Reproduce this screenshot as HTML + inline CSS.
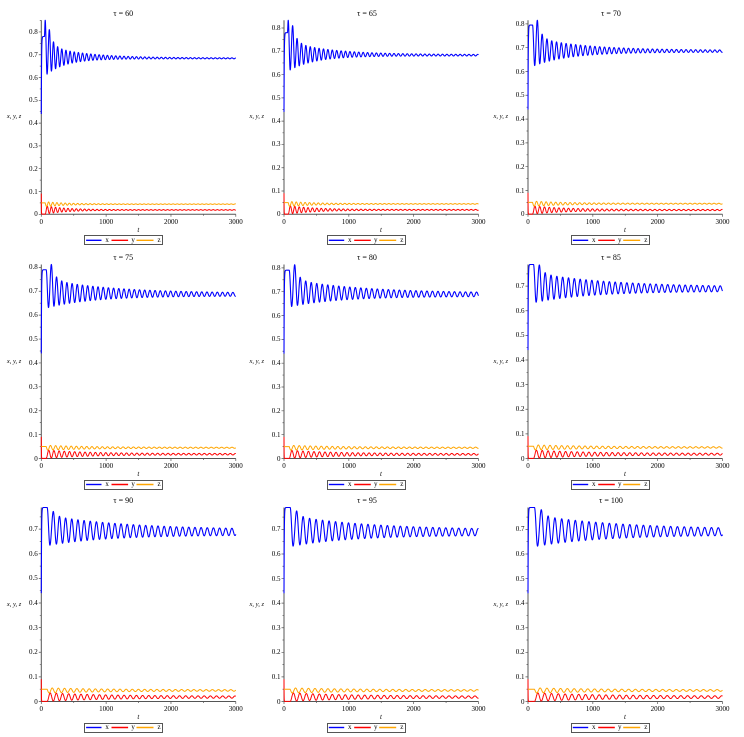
<!DOCTYPE html>
<html><head><meta charset="utf-8">
<style>
html,body{margin:0;padding:0;background:#fff;}
body{width:744px;height:737px;position:relative;overflow:hidden;font-family:"Liberation Serif",serif;color:#000;}
#sv{position:absolute;left:0;top:0;}
.p{position:absolute;width:0;height:0;}
.yt{position:absolute;right:3.5px;top:calc(-1px * var(--k) * var(--v) - 4px);font-size:7px;line-height:8px;white-space:nowrap;}
.xt{position:absolute;top:3.4px;left:calc(var(--t) * 64.83px);transform:translateX(-50%);font-size:7px;line-height:8px;white-space:nowrap;}
.ti{position:absolute;top:-205.2px;left:83px;transform:translateX(-50%);font-size:8px;line-height:10px;white-space:nowrap;}
.yl{position:absolute;right:20px;top:-101px;font-size:6.5px;line-height:8px;font-style:italic;white-space:nowrap;}
.tl{position:absolute;left:97px;top:11.7px;transform:translateX(-50%);font-size:7px;line-height:8px;font-style:italic;}
.lg{position:absolute;left:42.5px;top:21px;width:77px;height:8px;border:1px solid #555;}
.lt{position:absolute;top:-0.8px;font-size:7px;line-height:9px;transform:translateX(-50%);}
</style></head>
<body>
<svg id="sv" width="744" height="737" viewBox="0 0 744 737"></svg>

<div class="p" style="left:41.3px;top:214.3px;--k:22.8">
<div class="ti" style="left:82px">τ = 60</div>
<div class="yl">x, y, z</div><div class="tl">t</div>
<div class="yt" style="--v:0">0</div><div class="yt" style="--v:1">0.1</div><div class="yt" style="--v:2">0.2</div><div class="yt" style="--v:3">0.3</div><div class="yt" style="--v:4">0.4</div><div class="yt" style="--v:5">0.5</div><div class="yt" style="--v:6">0.6</div><div class="yt" style="--v:7">0.7</div><div class="yt" style="--v:8">0.8</div>
<div class="xt" style="--t:0">0</div><div class="xt" style="--t:1">1000</div><div class="xt" style="--t:2">2000</div><div class="xt" style="--t:3">3000</div>
<div class="lg"><span class="lt" style="left:22.3px">x</span><span class="lt" style="left:48.3px">y</span><span class="lt" style="left:74.3px">z</span></div>
</div>

<div class="p" style="left:284px;top:214.3px;--k:23.29">
<div class="ti">τ = 65</div>
<div class="yl">x, y, z</div><div class="tl">t</div>
<div class="yt" style="--v:0">0</div><div class="yt" style="--v:1">0.1</div><div class="yt" style="--v:2">0.2</div><div class="yt" style="--v:3">0.3</div><div class="yt" style="--v:4">0.4</div><div class="yt" style="--v:5">0.5</div><div class="yt" style="--v:6">0.6</div><div class="yt" style="--v:7">0.7</div><div class="yt" style="--v:8">0.8</div>
<div class="xt" style="--t:0">0</div><div class="xt" style="--t:1">1000</div><div class="xt" style="--t:2">2000</div><div class="xt" style="--t:3">3000</div>
<div class="lg"><span class="lt" style="left:22.3px">x</span><span class="lt" style="left:48.3px">y</span><span class="lt" style="left:74.3px">z</span></div>
</div>

<div class="p" style="left:528px;top:214.3px;--k:23.8">
<div class="ti">τ = 70</div>
<div class="yl">x, y, z</div><div class="tl">t</div>
<div class="yt" style="--v:0">0</div><div class="yt" style="--v:1">0.1</div><div class="yt" style="--v:2">0.2</div><div class="yt" style="--v:3">0.3</div><div class="yt" style="--v:4">0.4</div><div class="yt" style="--v:5">0.5</div><div class="yt" style="--v:6">0.6</div><div class="yt" style="--v:7">0.7</div><div class="yt" style="--v:8">0.8</div>
<div class="xt" style="--t:0">0</div><div class="xt" style="--t:1">1000</div><div class="xt" style="--t:2">2000</div><div class="xt" style="--t:3">3000</div>
<div class="lg"><span class="lt" style="left:22.3px">x</span><span class="lt" style="left:48.3px">y</span><span class="lt" style="left:74.3px">z</span></div>
</div>

<div class="p" style="left:41.3px;top:458.5px;--k:23.89">
<div class="ti" style="left:82px">τ = 75</div>
<div class="yl">x, y, z</div><div class="tl">t</div>
<div class="yt" style="--v:0">0</div><div class="yt" style="--v:1">0.1</div><div class="yt" style="--v:2">0.2</div><div class="yt" style="--v:3">0.3</div><div class="yt" style="--v:4">0.4</div><div class="yt" style="--v:5">0.5</div><div class="yt" style="--v:6">0.6</div><div class="yt" style="--v:7">0.7</div><div class="yt" style="--v:8">0.8</div>
<div class="xt" style="--t:0">0</div><div class="xt" style="--t:1">1000</div><div class="xt" style="--t:2">2000</div><div class="xt" style="--t:3">3000</div>
<div class="lg"><span class="lt" style="left:22.3px">x</span><span class="lt" style="left:48.3px">y</span><span class="lt" style="left:74.3px">z</span></div>
</div>

<div class="p" style="left:284px;top:458.5px;--k:23.83">
<div class="ti">τ = 80</div>
<div class="yl">x, y, z</div><div class="tl">t</div>
<div class="yt" style="--v:0">0</div><div class="yt" style="--v:1">0.1</div><div class="yt" style="--v:2">0.2</div><div class="yt" style="--v:3">0.3</div><div class="yt" style="--v:4">0.4</div><div class="yt" style="--v:5">0.5</div><div class="yt" style="--v:6">0.6</div><div class="yt" style="--v:7">0.7</div><div class="yt" style="--v:8">0.8</div>
<div class="xt" style="--t:0">0</div><div class="xt" style="--t:1">1000</div><div class="xt" style="--t:2">2000</div><div class="xt" style="--t:3">3000</div>
<div class="lg"><span class="lt" style="left:22.3px">x</span><span class="lt" style="left:48.3px">y</span><span class="lt" style="left:74.3px">z</span></div>
</div>

<div class="p" style="left:528px;top:458.5px;--k:24.62">
<div class="ti">τ = 85</div>
<div class="yl">x, y, z</div><div class="tl">t</div>
<div class="yt" style="--v:0">0</div><div class="yt" style="--v:1">0.1</div><div class="yt" style="--v:2">0.2</div><div class="yt" style="--v:3">0.3</div><div class="yt" style="--v:4">0.4</div><div class="yt" style="--v:5">0.5</div><div class="yt" style="--v:6">0.6</div><div class="yt" style="--v:7">0.7</div>
<div class="xt" style="--t:0">0</div><div class="xt" style="--t:1">1000</div><div class="xt" style="--t:2">2000</div><div class="xt" style="--t:3">3000</div>
<div class="lg"><span class="lt" style="left:22.3px">x</span><span class="lt" style="left:48.3px">y</span><span class="lt" style="left:74.3px">z</span></div>
</div>

<div class="p" style="left:41.3px;top:701.5px;--k:24.62">
<div class="ti" style="left:82px">τ = 90</div>
<div class="yl">x, y, z</div><div class="tl">t</div>
<div class="yt" style="--v:0">0</div><div class="yt" style="--v:1">0.1</div><div class="yt" style="--v:2">0.2</div><div class="yt" style="--v:3">0.3</div><div class="yt" style="--v:4">0.4</div><div class="yt" style="--v:5">0.5</div><div class="yt" style="--v:6">0.6</div><div class="yt" style="--v:7">0.7</div>
<div class="xt" style="--t:0">0</div><div class="xt" style="--t:1">1000</div><div class="xt" style="--t:2">2000</div><div class="xt" style="--t:3">3000</div>
<div class="lg"><span class="lt" style="left:22.3px">x</span><span class="lt" style="left:48.3px">y</span><span class="lt" style="left:74.3px">z</span></div>
</div>

<div class="p" style="left:284px;top:701.5px;--k:24.59">
<div class="ti">τ = 95</div>
<div class="yl">x, y, z</div><div class="tl">t</div>
<div class="yt" style="--v:0">0</div><div class="yt" style="--v:1">0.1</div><div class="yt" style="--v:2">0.2</div><div class="yt" style="--v:3">0.3</div><div class="yt" style="--v:4">0.4</div><div class="yt" style="--v:5">0.5</div><div class="yt" style="--v:6">0.6</div><div class="yt" style="--v:7">0.7</div>
<div class="xt" style="--t:0">0</div><div class="xt" style="--t:1">1000</div><div class="xt" style="--t:2">2000</div><div class="xt" style="--t:3">3000</div>
<div class="lg"><span class="lt" style="left:22.3px">x</span><span class="lt" style="left:48.3px">y</span><span class="lt" style="left:74.3px">z</span></div>
</div>

<div class="p" style="left:528px;top:701.5px;--k:24.59">
<div class="ti">τ = 100</div>
<div class="yl">x, y, z</div><div class="tl">t</div>
<div class="yt" style="--v:0">0</div><div class="yt" style="--v:1">0.1</div><div class="yt" style="--v:2">0.2</div><div class="yt" style="--v:3">0.3</div><div class="yt" style="--v:4">0.4</div><div class="yt" style="--v:5">0.5</div><div class="yt" style="--v:6">0.6</div><div class="yt" style="--v:7">0.7</div>
<div class="xt" style="--t:0">0</div><div class="xt" style="--t:1">1000</div><div class="xt" style="--t:2">2000</div><div class="xt" style="--t:3">3000</div>
<div class="lg"><span class="lt" style="left:22.3px">x</span><span class="lt" style="left:48.3px">y</span><span class="lt" style="left:74.3px">z</span></div>
</div>

<script>
(function(){
var AX=[41.3,284,528],BY=[214.3,458.5,701.5],W=194.5,H=194;
var D=[
{tau:60,P:64,ym:.851,pv:.78,pk0:.851,L1:.615,pk2:.81,xe:.684,u2:.05,d:600,u0:.002,ld:300,l0:.002,ye:.019,yd:320,yf:.0015,ze:.0445,zA:.011,zf:.0012},
{tau:65,P:68,ym:.833,pv:.78,pk0:.833,L1:.62,pk2:.81,xe:.684,u2:.05,d:650,u0:.002,ld:400,l0:.004,ye:.019,yd:400,yf:.002,ze:.0445,zA:.011,zf:.0015},
{tau:70,P:74,ym:.815,pv:.795,pk0:.795,L1:.625,pk2:.815,xe:.686,u2:.05,d:800,u0:.003,ld:550,l0:.005,ye:.018,yd:500,yf:.0025,ze:.0445,zA:.011,zf:.002},
{tau:75,P:80,ym:.812,pv:.79,pk0:.79,L1:.632,pk2:.812,xe:.687,u2:.055,d:1000,u0:.005,ld:700,l0:.007,ye:.018,yd:650,yf:.003,ze:.045,zA:.0105,zf:.0022},
{tau:80,P:85,ym:.814,pv:.79,pk0:.79,L1:.638,pk2:.813,xe:.688,u2:.055,d:1100,u0:.006,ld:750,l0:.008,ye:.0175,yd:750,yf:.0033,ze:.045,zA:.0105,zf:.0025},
{tau:85,P:90,ym:.788,pv:.788,pk0:.788,L1:.635,pk2:.786,xe:.689,u2:.055,d:1200,u0:.007,ld:850,l0:.01,ye:.0175,yd:850,yf:.0035,ze:.045,zA:.0105,zf:.0027},
{tau:90,P:95,ym:.788,pv:.788,pk0:.788,L1:.635,pk2:.772,xe:.688,u2:.055,d:1300,u0:.009,ld:900,l0:.012,ye:.018,yd:900,yf:.004,ze:.045,zA:.0105,zf:.003},
{tau:95,P:100,ym:.789,pv:.789,pk0:.789,L1:.632,pk2:.775,xe:.688,u2:.055,d:1300,u0:.009,ld:900,l0:.012,ye:.018,yd:950,yf:.004,ze:.045,zA:.0105,zf:.003},
{tau:100,P:105,ym:.789,pv:.789,pk0:.789,L1:.632,pk2:.78,xe:.689,u2:.055,d:1400,u0:.01,ld:1000,l0:.012,ye:.018,yd:1000,yf:.0045,ze:.045,zA:.0105,zf:.0032}
];
var s='';
for(var i=0;i<D.length;i++){
 var p=D[i];
 var ax=AX[i%3],b=BY[Math.floor(i/3)],k=H/p.ym,sx=W/3000;
 s+='<path d="M'+ax+' '+b+'H'+(ax+W)+'M'+ax+' '+b+'V'+(b-H)+'" stroke="#555" stroke-width="1" fill="none"/>';
 var tk='';
 for(var m=0;m*0.05<=p.ym+1e-9;m++){var yy=b-m*0.05*k;var maj=(m%2==0);tk+='M'+(ax-(maj?2.5:1.5)).toFixed(2)+' '+yy.toFixed(2)+'H'+ax;}
 for(var tt0=0;tt0<=3000;tt0+=500){var xx=ax+tt0*sx;tk+='M'+xx.toFixed(2)+' '+b+'V'+(b+(tt0%1000==0?2.5:1.5));}
 s+='<path d="'+tk+'" stroke="#555" stroke-width="0.7" fill="none"/>';
 // legend lines
 var L=ax+42.5+1, LY=b+21+5;
 s+='<path d="M'+(L+1.3).toFixed(2)+' '+LY+'H'+(L+16.7).toFixed(2)+'" stroke="#0000ff" stroke-width="1.4"/>';
 s+='<path d="M'+(L+26.7).toFixed(2)+' '+LY+'H'+(L+43.3).toFixed(2)+'" stroke="#ff0000" stroke-width="1.4"/>';
 s+='<path d="M'+(L+51.7).toFixed(2)+' '+LY+'H'+(L+68.7).toFixed(2)+'" stroke="#ffa500" stroke-width="1.4"/>';
 var T1=p.tau+0.45*p.P,Tp=p.tau+p.P;
 var E=[[p.tau,p.pk0],[T1,p.L1],[Tp,p.pk2]];
 var a=Math.max(0,p.pk2-p.xe-p.u2-p.u0);
 var lA=p.xe-p.L1-p.l0;
 for(var j=1;;j++){
  var te=Tp+j*p.P/2; if(te>3300)break; var dd=te-Tp;
  if(j%2==1){E.push([te,p.xe-(lA*Math.exp(-(te-T1)/p.ld)+p.l0)]);}
  else{E.push([te,p.xe+a*Math.exp(-dd/60)+p.u2*Math.exp(-dd/p.d)+p.u0]);}
 }
 var yA0=Math.max(0,p.ye-0.0005-p.yf);
 var phi=Math.acos(Math.min(1,Math.max(-1,(0.05-p.ze)/p.zA)));
 var ptsX=[],ptsY=[],ptsZ=[],ei=0;
 var t=0;
 while(true){
  var xv;
  if(t<p.tau){
   xv=p.pv-(p.pv-0.44)*Math.exp(-t/4);
   if(p.pk0>p.pv){var q=(t-(p.tau-12))/12;if(q>0)xv+=(p.pk0-p.pv)*(1-Math.cos(Math.PI*q))/2;}
  } else {
   while(ei<E.length-2&&E[ei+1][0]<=t)ei++;
   var A0=E[ei],A1=E[ei+1];
   var f=(t-A0[0])/(A1[0]-A0[0]); if(f<0)f=0; if(f>1)f=1;
   xv=A0[1]+(A1[1]-A0[1])*(1-Math.cos(Math.PI*f))/2;
  }
  var yv,zv;
  if(t<p.tau){yv=0.09*Math.exp(-t/1.5)+0.0006;zv=0.05;}
  else{
   var th=2*Math.PI*(t-p.tau)/p.P;
   var Ay=yA0*Math.exp(-(t-p.tau)/p.yd)+p.yf;
   yv=p.ye+Ay*Math.cos(th+Math.PI); if(yv<0.0003)yv=0.0003;
   var Az=(p.zA-p.zf)*Math.exp(-(t-p.tau)/p.yd)+p.zf;
   zv=p.ze+Az*Math.cos(th+phi);
  }
  var px=(ax+t*sx).toFixed(2);
  ptsX.push(px+','+(b-xv*k).toFixed(2));
  ptsY.push(px+','+(b-yv*k).toFixed(2));
  ptsZ.push(px+','+(b-zv*k).toFixed(2));
  if(t>=3000)break;
  t+=(t<400?1:2); if(t>3000)t=3000;
 }
 s+='<polyline points="'+ptsX.join(' ')+'" fill="none" stroke="#0000ff" stroke-width="1.1" stroke-linejoin="round"/>';
 s+='<polyline points="'+ptsY.join(' ')+'" fill="none" stroke="#ff0000" stroke-width="1" stroke-linejoin="round"/>';
 s+='<polyline points="'+ptsZ.join(' ')+'" fill="none" stroke="#ffa500" stroke-width="1" stroke-linejoin="round"/>';
}
document.getElementById('sv').innerHTML=s;
})();
</script>
</body></html>
